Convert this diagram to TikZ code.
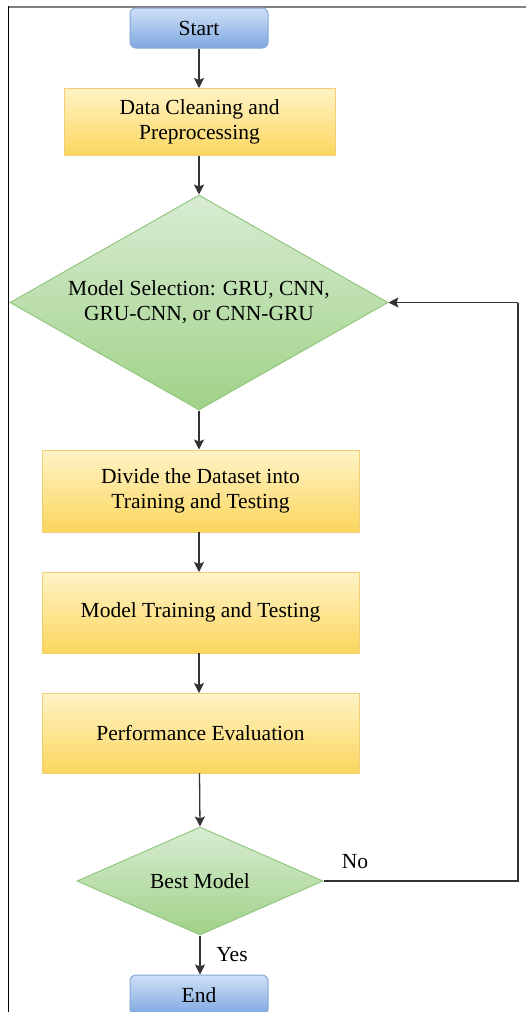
\documentclass[tikz,border=0pt]{standalone}
\usepackage{fontspec}
\setmainfont{Liberation Serif}
\newfontfamily\figserif{Liberation Serif}
\usetikzlibrary{shapes.geometric,arrows.meta}
\definecolor{bluetop}{HTML}{CFE0F7}
\definecolor{bluebot}{HTML}{7EA7E0}
\definecolor{blueline}{HTML}{86A8D8}
\definecolor{yeltop}{HTML}{FFF3C6}
\definecolor{yelbot}{HTML}{FBD65E}
\definecolor{yelline}{HTML}{F0CF78}
\definecolor{grntop}{HTML}{D8ECD3}
\definecolor{grnbot}{HTML}{A0D287}
\definecolor{grnline}{HTML}{93C77F}
\definecolor{linecol}{HTML}{333333}
\tikzset{
  every node/.style={font=\figserif\fontsize{21.5}{25}\selectfont, text=black},
  termbox/.style={rectangle, rounded corners=6pt, draw=blueline, line width=1pt,
    top color=bluetop, bottom color=bluebot, minimum width=138pt, minimum height=40pt, inner sep=0pt},
  procbox/.style={rectangle, draw=yelline, line width=1pt,
    top color=yeltop, bottom color=yelbot, inner sep=0pt, align=center},
  decide/.style={diamond, draw=grnline, line width=1pt,
    top color=grntop, bottom color=grnbot, inner sep=0pt, align=center},
  flow/.style={draw=linecol, line width=1.3pt, -{Stealth[length=10pt,width=10pt,inset=2pt]}},
  lbl/.style={anchor=center, inner sep=0pt},
}
\begin{document}
\begin{tikzpicture}[x=1pt,y=-1pt]
\useasboundingbox (0,0) rectangle (526,1012);
\begin{scope}
\clip (0,0) rectangle (526,1012);
\fill[white] (0,0) rectangle (526,1012);
% frame
\draw[gray, line width=2pt] (8,6.5) -- (526,6.5);
\draw[black, line width=1pt] (8,6) -- (8,1012);

\node[termbox] (start) at (199,28) {Start};
\node[procbox, minimum width=271pt, minimum height=67pt] (clean) at (199.5,122) {Data Cleaning and\\Preprocessing};
\node[decide, aspect=1.76, minimum width=378pt, minimum height=215pt] (select) at (199,302.5) {Model Selection: GRU, CNN,\\GRU-CNN, or CNN-GRU};
\node[procbox, minimum width=317pt, minimum height=82pt] (divide) at (200.5,491) {Divide the Dataset into\\Training and Testing};
\node[procbox, minimum width=317pt, minimum height=81pt] (train) at (200.5,612.5) {Model Training and Testing};
\node[procbox, minimum width=317pt, minimum height=80pt] (perf) at (200.5,733) {Performance Evaluation};
\node[decide, aspect=2.28, minimum width=246pt, minimum height=108pt] (best) at (200,881) {Best Model};
\node[termbox] (endn) at (199,995) {End};

\coordinate (c1) at (518,881);
\coordinate (c2) at (518,302.5);

\draw[flow] (start.south) -- (start.south |- clean.north);
\draw[flow] (199,155.5) -- (select.north);
\draw[flow] (select.south) -- (select.south |- divide.north);
\draw[flow] (199,532) -- (199,572);
\draw[flow] (199,653) -- (199,693);
\draw[flow] (199.5,773) -- (best.north);
\draw[flow] (best.south) -- (best.south |- endn.north);
\draw[draw=linecol, line width=1.3pt] (best.east) -- (c1) -- (c2);
\draw[flow] (c2) -- (select.east);

\node[lbl] (no) at (355,862) {No};
\node[lbl] (yes) at (232,955) {Yes};
\end{scope}
\end{tikzpicture}
\end{document}
